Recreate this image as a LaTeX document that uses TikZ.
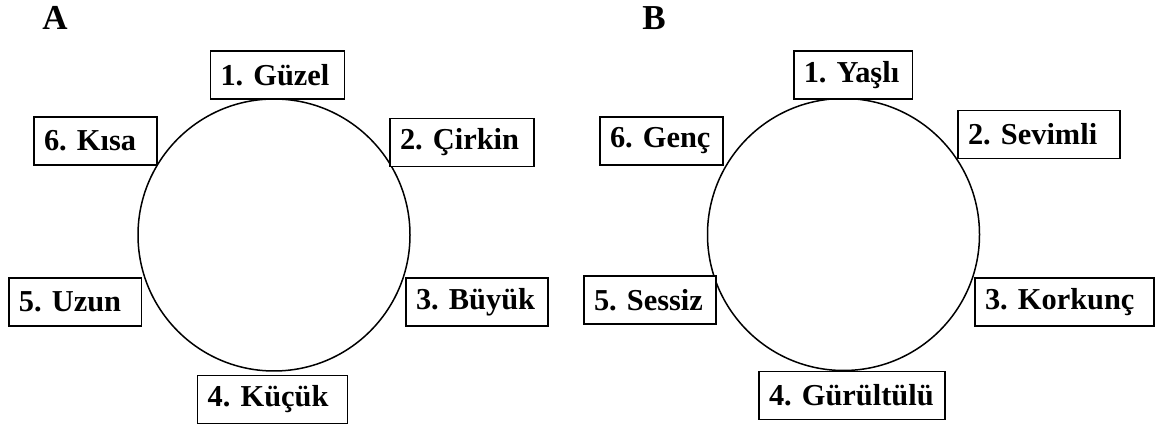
\documentclass[tikz,border=0pt]{standalone}
\usepackage{fontspec}
\setmainfont{Liberation Serif}
\frenchspacing
\begin{document}
\begin{tikzpicture}[x=0.5pt,y=-0.5pt,
    word/.style={draw,fill=white,line width=0.75pt,inner xsep=5pt,inner ysep=0pt,
                 minimum height=24pt,align=left,font=\fontsize{15.2}{18}\selectfont\bfseries},
    panel/.style={font=\fontsize{17.5}{20}\selectfont\bfseries,inner sep=0pt}]
        % Frame of the picture
        \useasboundingbox (0,0) rectangle (1157,426);
        \pgfmathsetmacro{\rad}{136}

        % Panel letters
        \node[panel,anchor=base] (labA) at (55,30) {A};
        \node[panel,anchor=base] (labB) at (654,30) {B};

        % Circles
        \node[draw,circle,line width=0.75pt,inner sep=0pt,minimum size=2*\rad*0.5pt] (circA) at (274,235) {};
        \node[draw,circle,line width=0.75pt,inner sep=0pt,minimum size=2*\rad*0.5pt] (circB) at (843.5,234.5) {};

        % Words round circle A
        \node[word,text width=57pt] (gA1) at (277.5,75) {1. Güzel};
        \node[word,text width=62pt] (gA2) at (462,142.5) {2. Çirkin};
        \node[word,text width=61pt] (gA3) at (477,302) {3. Büyük};
        \node[word,text width=65pt] (gA4) at (272.7,399.5) {4. Küçük};
        \node[word,text width=56.3pt] (gA5) at (75.2,302) {5. Uzun};
        \node[word,text width=51.5pt] (gA6) at (95.5,141) {6. Kısa};

        % Words round circle B
        \node[word,text width=49.25pt] (gB1) at (853,75) {1. Yaşlı};
        \node[word,text width=71pt] (gB2) at (1039,134.5) {2. Sevimli};
        \node[word,text width=79.5pt] (gB3) at (1064.5,302) {3. Korkunç};
        \node[word,text width=83pt] (gB4) at (852,395.5) {4. Gürültülü};
        \node[word,text width=56pt] (gB5) at (650,300) {5. Sessiz};
        \node[word,text width=51.5pt] (gB6) at (661.5,141) {6. Genç};
\end{tikzpicture}
\end{document}
